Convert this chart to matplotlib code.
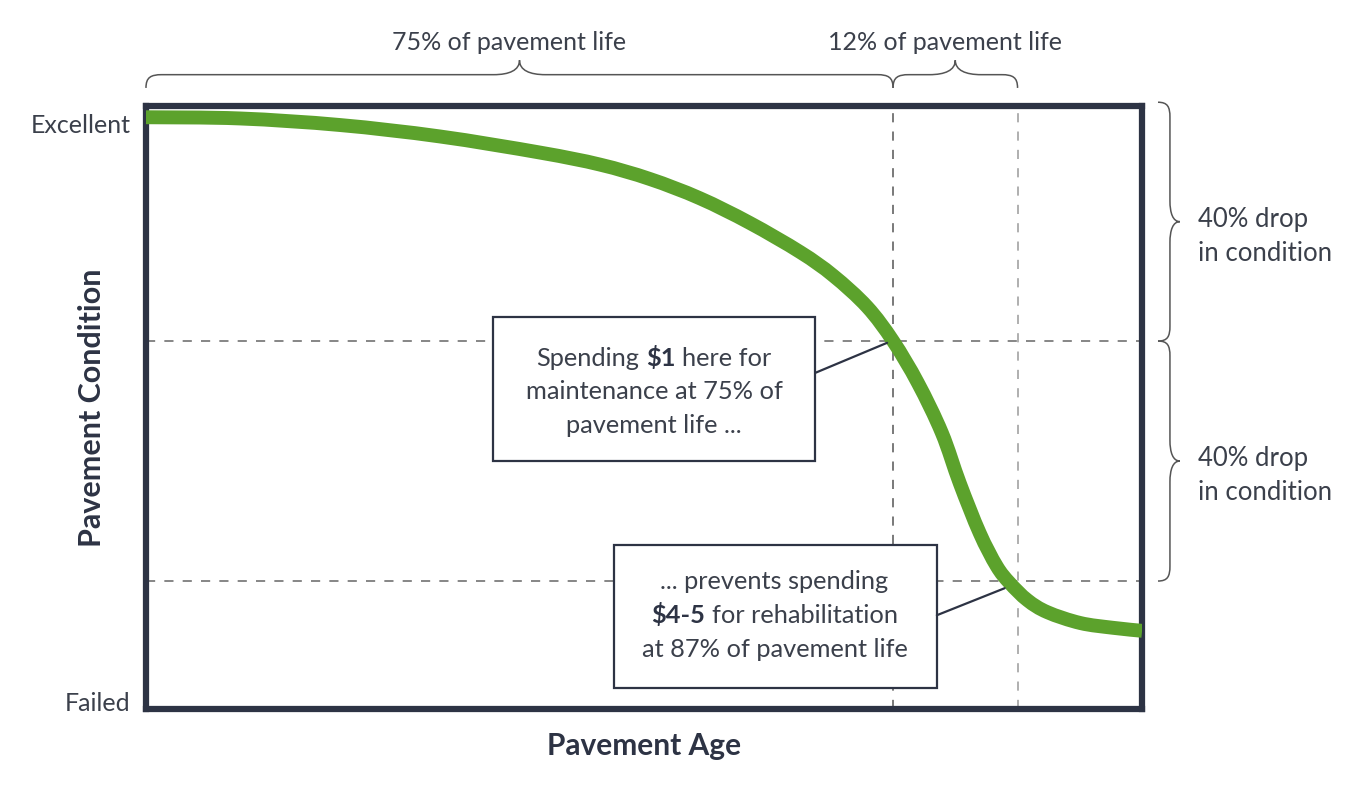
import matplotlib
matplotlib.use("Agg")
import numpy as np
import matplotlib.pyplot as plt
from matplotlib.path import Path
from matplotlib.patches import PathPatch, Rectangle
from matplotlib.offsetbox import TextArea, HPacker, VPacker, AnnotationBbox

plt.rcParams['font.family'] = ['Lato', 'DejaVu Sans']

# curve: pavement life (%) vs condition (0 = failed, ~97 = excellent)
life_pct = [0, 9.4, 19.5, 29.5, 39.6, 45.6, 50.6, 55.6, 60.6, 65.7, 69.0, 72.4, 75.0,
            77.5, 79.9, 81.7, 83.7, 85.4, 86.7, 88.5, 90.5, 93.8, 97.1, 100]
condition = [97.3, 97.1, 96.0, 94.1, 91.4, 89.4, 87.0, 83.8, 79.7, 74.8, 70.9, 65.7, 60.0,
             53.0, 44.7, 36.3, 28.0, 22.5, 19.7, 16.8, 14.8, 13.0, 12.2, 11.7]

life_marks = [75, 87.5]          # vertical reference lines
cond_marks = [60, 20]            # horizontal reference lines
tick_pos = [96.2, 0]
tick_labels = ['Excellent', 'Failed']
life_spans = [(0, 75, '75% of pavement life'), (75, 87.5, '12% of pavement life')]
cond_spans = [(99.8, 60, '40% drop\nin condition'), (60, 20, '40% drop\nin condition')]

TXT = '#3b404b'
DARK = '#2d3344'
GREEN = '#5ca22c'

fig = plt.figure(figsize=(13.63, 7.96), dpi=100)
ax = fig.add_axes([0.1071, 0.1093, 0.7308, 0.7575])
ax.set_xlim(0, 100)
ax.set_ylim(-1.33, 99.17)

for s in ax.spines.values():
    s.set_color(DARK)
    s.set_linewidth(4.5)
ax.set_xticks([])
ax.set_yticks(tick_pos)
ax.set_yticklabels(tick_labels, fontsize=18, color=TXT)
ax.tick_params(axis='y', length=0, pad=11)

# reference lines
dash_cols = ['#555555', '#9a9a9a']
for xv, c in zip(life_marks, dash_cols):
    ax.axvline(xv, color=c, lw=1.1, dashes=(6, 6), zorder=1)
for yv in cond_marks:
    ax.axhline(yv, color='#666666', lw=1.1, dashes=(6, 6), zorder=1)

# smooth condition curve through the read points (catmull-rom as bezier segments)
pts = np.column_stack([life_pct, condition])
n = len(pts)
verts = [tuple(pts[0])]
codes = [Path.MOVETO]
for i in range(n - 1):
    p0 = pts[max(i - 1, 0)]
    p1 = pts[i]
    p2 = pts[i + 1]
    p3 = pts[min(i + 2, n - 1)]
    verts += [tuple(p1 + (p2 - p0) / 6), tuple(p2 - (p3 - p1) / 6), tuple(p2)]
    codes += [Path.CURVE4] * 3
ax.add_patch(PathPatch(Path(verts, codes), fill=False, ec=GREEN, lw=10,
                       capstyle='butt', joinstyle='round', zorder=3))


def brace(u0, u1, v_end, v_mid, v_tip, qe, qt, vertical=False, **kw):
    um = (u0 + u1) / 2
    sgn = 1 if u1 > u0 else -1
    qe, qt = qe * sgn, qt * sgn
    dv = v_mid - v_end
    tv = v_tip - v_mid
    pts = [(u0, v_end),
           (u0, v_end + dv * 0.8), (u0 + qe * 0.3, v_mid), (u0 + qe, v_mid),
           (um - qt, v_mid),
           (um - qt * 0.4, v_mid), (um, v_mid + tv * 0.3), (um, v_tip),
           (um, v_mid + tv * 0.3), (um + qt * 0.4, v_mid), (um + qt, v_mid),
           (u1 - qe, v_mid),
           (u1 - qe * 0.3, v_mid), (u1, v_end + dv * 0.8), (u1, v_end)]
    codes = [Path.MOVETO] + [Path.CURVE4] * 3 + [Path.LINETO] + [Path.CURVE4] * 6 + \
            [Path.LINETO] + [Path.CURVE4] * 3
    if vertical:
        pts = [(v, u) for u, v in pts]
        tr = ax.get_yaxis_transform()
    else:
        tr = ax.get_xaxis_transform()
    p = PathPatch(Path(pts, codes), fill=False, transform=tr, clip_on=False, **kw)
    ax.add_patch(p)


for a, b, lab in life_spans:
    brace(a, b, 1.03, 1.052, 1.076, 1.6, 2.6, ec='#555555', lw=1.1)
    ax.text((a + b) / 2 - 1.0, 1.106, lab, transform=ax.get_xaxis_transform(),
            ha='center', va='center', fontsize=18, color=TXT)

for a, b, lab in cond_spans:
    brace(a, b, 1.016, 1.028, 1.038, 2.5, 3.5, vertical=True, ec='#555555', lw=1.1)
    ax.text(1.056, (a + b) / 2 - 2.4, lab, transform=ax.get_yaxis_transform(),
            ha='left', va='center', fontsize=18.5, color=TXT, linespacing=1.45)

# axis titles
ax.text(0.5, -0.062, 'Pavement Age', transform=ax.transAxes, ha='center', va='center',
        fontsize=21.5, fontweight='bold', color=DARK)
ax.text(-0.054, 0.5, 'Pavement Condition', transform=ax.transAxes, ha='center',
        va='center', rotation=90, fontsize=22, fontweight='bold', color=DARK)


def callout(box, center, lines, leader):
    x0, y0, x1, y1 = box
    ax.add_patch(Rectangle((x0, y0), x1 - x0, y1 - y0, fc='white', ec=DARK,
                           lw=1.6, zorder=4))
    ax.plot(*leader, color=DARK, lw=1.6, zorder=4, solid_capstyle='round')
    rows = []
    for segs in lines:
        parts = [TextArea(t, textprops=dict(fontsize=18.3, color=DARK if b else TXT,
                                             fontweight='bold' if b else 'normal',
                                             parse_math=False))
                 for t, b in segs]
        rows.append(HPacker(children=parts, align='baseline', pad=0, sep=5))
    vp = VPacker(children=rows, align='center', pad=0, sep=7.5)
    ab = AnnotationBbox(vp, center, xycoords='data', frameon=False,
                        box_alignment=(0.5, 0.5), zorder=5)
    ax.add_artist(ab)


callout((34.8, 40.0, 67.2, 64.0), (51.0, 51.6),
        [[('Spending', 0), ('$1', 1), ('here for', 0)],
         [('maintenance at 75% of', 0)],
         [('pavement life ...', 0)]],
        ([67.2, 74.4], [54.7, 59.7]))

callout((47.0, 2.2, 79.4, 26.0), (63.1, 14.3),
        [[('... prevents spending', 0)],
         [('$4-5', 1), ('for rehabilitation', 0)],
         [('at 87% of pavement life', 0)]],
        ([79.4, 86.2], [14.3, 18.8]))

fig.savefig('out.png', dpi=100, facecolor='white')
